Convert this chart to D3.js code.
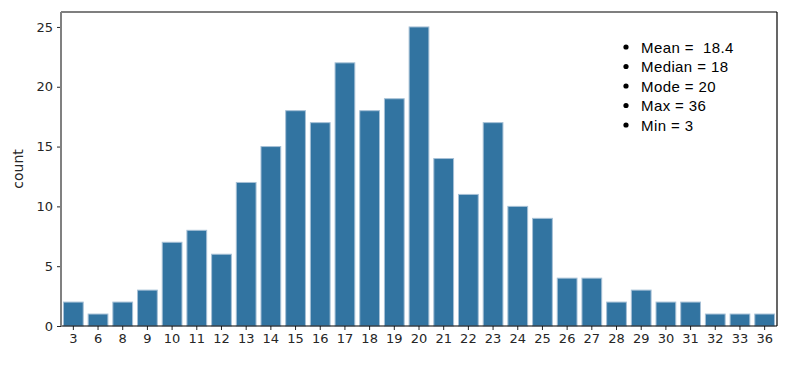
<!DOCTYPE html>
<html>
<head>
<meta charset="utf-8">
<script src="https://cdn.jsdelivr.net/npm/d3@7"></script>
<style>
  body { margin: 0; background: white; }
  svg { display: block; }
</style>
</head>
<body>
<div id="chart"></div>
<script>
const categories = ["3", "6", "8", "9", "10", "11", "12", "13", "14", "15", "16", "17", "18", "19", "20",
  "21", "22", "23", "24", "25", "26", "27", "28", "29", "30", "31", "32", "33", "36"];
const counts = [2, 1, 2, 3, 7, 8, 6, 12, 15, 18, 17, 22, 18, 19, 25,
  14, 11, 17, 10, 9, 4, 4, 2, 3, 2, 2, 1, 1, 1];
const yTicks = [0, 5, 10, 15, 20, 25];
const statLines = ["Mean =  18.4", "Median = 18", "Mode = 20", "Max = 36", "Min = 3"];

const width = 789, height = 367;
const margins = { left: 61, right: 12, top: 12, bottom: 41 };
const innerW = width - margins.left - margins.right;
const innerH = height - margins.top - margins.bottom;

const svg = d3.select("#chart")
  .append("svg")
  .attr("width", width)
  .attr("height", height)
  .append("g")
  .attr("transform", `translate(${margins.left},${margins.top})`);

const x = d3.scaleBand()
  .domain(categories)
  .range([0, innerW])
  .paddingInner(0.2)
  .paddingOuter(0.1);

const y = d3.scaleLinear()
  .domain([0, d3.max(counts) * 1.05])
  .range([innerH, 0]);

// bars
svg.selectAll("rect.bar")
  .data(counts)
  .enter()
  .append("rect")
  .attr("class", "bar")
  .attr("x", (d, i) => x(categories[i]))
  .attr("y", (d) => y(d))
  .attr("width", x.bandwidth())
  .attr("height", (d) => y(0) - y(d))
  .attr("fill", "#3274a1")
  .attr("stroke", "#a6c0d6")
  .attr("stroke-width", 1);

// axes
const tickFont = "'DejaVu Sans', sans-serif";

const xAxis = svg.append("g")
  .attr("transform", `translate(0,${innerH})`)
  .call(d3.axisBottom(x).tickSize(4).tickPadding(4));
xAxis.select(".domain").remove();
xAxis.selectAll("text").attr("font-size", 13).attr("font-family", tickFont).attr("fill", "#262626");
xAxis.selectAll("line").attr("stroke", "#262626");

const yAxis = svg.append("g")
  .call(d3.axisLeft(y).tickValues(yTicks).tickSize(4).tickPadding(4));
yAxis.select(".domain").remove();
yAxis.selectAll("text").attr("font-size", 13).attr("font-family", tickFont).attr("fill", "#262626");
yAxis.selectAll("line").attr("stroke", "#262626");

// spines
svg.append("line").attr("x1", 0).attr("x2", innerW).attr("y1", 0).attr("y2", 0)
  .attr("stroke", "black").attr("stroke-width", 1.2);
svg.append("line").attr("x1", innerW).attr("x2", innerW).attr("y1", 0).attr("y2", innerH)
  .attr("stroke", "black").attr("stroke-width", 1.2);
svg.append("line").attr("x1", 0).attr("x2", innerW).attr("y1", innerH).attr("y2", innerH)
  .attr("stroke", "black").attr("stroke-width", 1.2);
svg.append("line").attr("x1", 0).attr("x2", 0).attr("y1", 0).attr("y2", innerH)
  .attr("stroke", "#808080").attr("stroke-width", 2);

// y label
svg.append("text")
  .attr("transform", `translate(${18 - margins.left},${innerH / 2}) rotate(-90)`)
  .attr("text-anchor", "middle")
  .attr("dominant-baseline", "central")
  .attr("font-size", 14)
  .attr("font-family", tickFont)
  .attr("fill", "#262626")
  .text("count");

// stats list
const stats = svg.append("g").attr("transform", `translate(${626 - margins.left},${47 - margins.top})`);
statLines.forEach((s, i) => {
  stats.append("circle")
    .attr("cx", 0)
    .attr("cy", i * 19.5)
    .attr("r", 2.6)
    .attr("fill", "black");
  stats.append("text")
    .attr("x", 15)
    .attr("y", i * 19.5)
    .attr("dominant-baseline", "central")
    .attr("font-size", 15)
    .attr("letter-spacing", 0.4)
    .attr("font-family", "'Liberation Sans', Arial, sans-serif")
    .attr("fill", "black")
    .style("white-space", "pre")
    .text(s);
});
</script>
</body>
</html>
